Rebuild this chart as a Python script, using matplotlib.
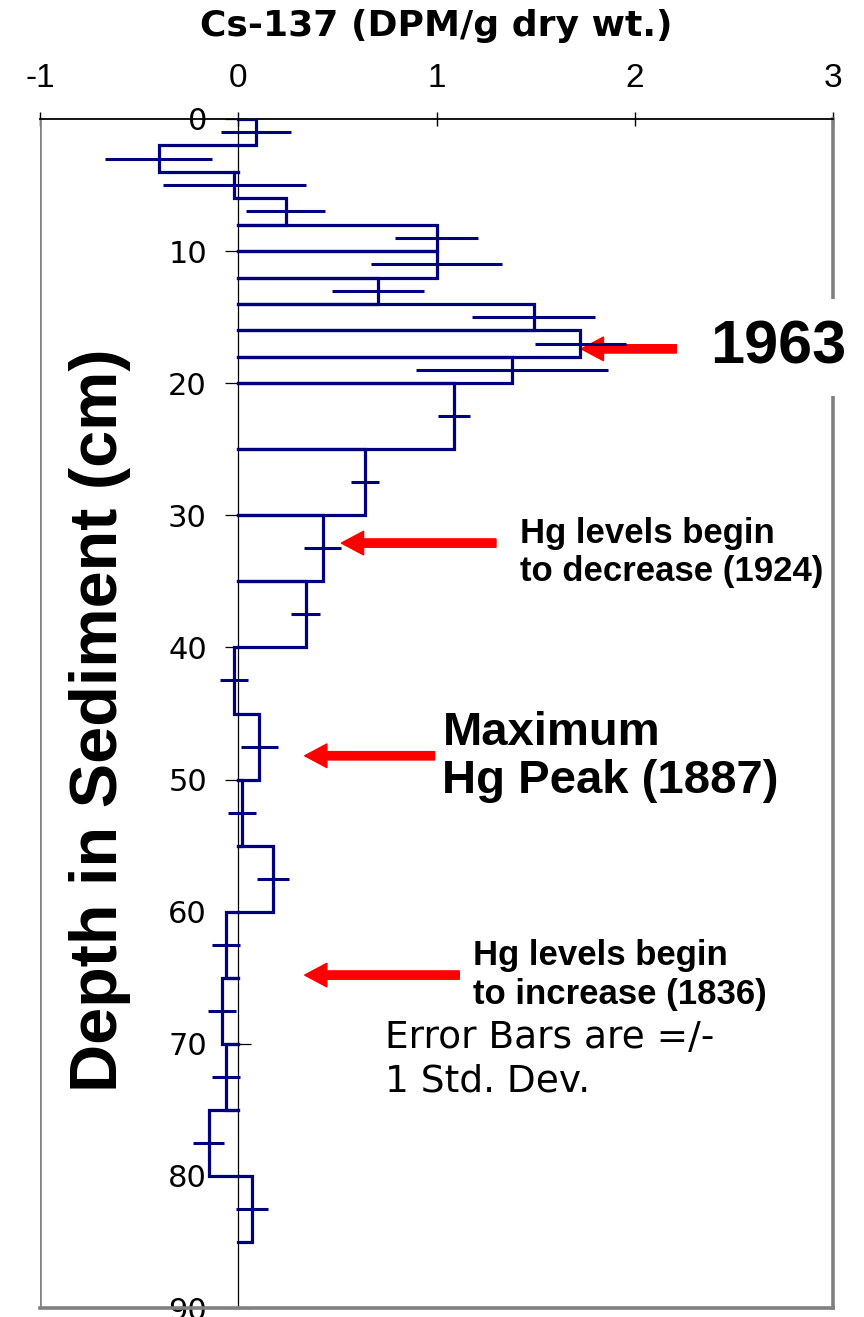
import numpy as np
import matplotlib.pyplot as plt

plt.rcParams['font.family'] = 'Liberation Sans'

# sediment slices (cm) and Cs-137 activity (DPM/g dry wt.) with 1 s.d.
depth_top = [0, 2, 4, 6, 8, 10, 12, 14, 16, 18, 20, 25, 30, 35, 40, 45, 50, 55, 60, 65, 70, 75, 80]
depth_bot = [2, 4, 6, 8, 10, 12, 14, 16, 18, 20, 25, 30, 35, 40, 45, 50, 55, 60, 65, 70, 75, 80, 85]
cs137 = [0.09, -0.40, -0.02, 0.24, 1.00, 1.00, 0.705, 1.49, 1.725, 1.38, 1.09, 0.64,
         0.425, 0.34, -0.02, 0.107, 0.02, 0.175, -0.06, -0.082, -0.06, -0.15, 0.07]
cs137_err = [0.175, 0.27, 0.36, 0.20, 0.21, 0.33, 0.23, 0.31, 0.23, 0.485, 0.08, 0.07,
             0.095, 0.073, 0.07, 0.093, 0.07, 0.08, 0.07, 0.07, 0.07, 0.08, 0.08]

x_ticks = [-1, 0, 1, 2, 3]
y_ticks = [0, 10, 20, 30, 40, 50, 60, 70, 80, 90]

navy = '#000080'
grey = '#808080'

fig = plt.figure(figsize=(8.64, 13.17), dpi=100)
ax = fig.add_axes([40/864, 9/1317, 793/864, 1189/1317])

# stepped profile, one open box per slice (no edge drawn on the zero line)
for top, bot, v in zip(depth_top, depth_bot, cs137):
    ax.plot([0, v, v, 0], [top, top, bot, bot], color=navy, lw=2.3,
            solid_joinstyle='miter', zorder=4)

mid = (np.array(depth_top) + np.array(depth_bot)) / 2
ax.errorbar(cs137, mid, xerr=cs137_err, fmt='none', ecolor=navy, elinewidth=2.2,
            capsize=0, zorder=4)

ax.set_xlim(-1, 3)
ax.set_ylim(90, 0)

# axes: x on top, y axis through x=0, grey frame round the rest
ax.spines['left'].set_position(('data', 0))
ax.spines['left'].set_linewidth(0.9)
ax.spines['top'].set_linewidth(1.3)
for s in ['right', 'bottom']:
    ax.spines[s].set_color(grey)
    ax.spines[s].set_linewidth(2.6)
ax.axvline(-1, color=grey, lw=2.6, zorder=2.5)

ax.xaxis.tick_top()
ax.set_xticks(x_ticks)
ax.set_xticklabels([str(t) for t in x_ticks])
ax.tick_params(axis='x', direction='inout', length=10, width=1, pad=13, labelsize=24)
ax.set_yticks(y_ticks)
ax.set_yticklabels([str(t) for t in y_ticks], family='DejaVu Sans')
ax.tick_params(axis='y', direction='inout', length=19, width=0.9, pad=13, labelsize=22)

ax.set_title('Cs-137 (DPM/g dry wt.)', fontsize=26, fontweight='bold',
             family='DejaVu Sans', pad=60)
fig.text(100/864, 1 - 720/1317, 'Depth in Sediment (cm)', rotation=90, ha='center',
         va='center', fontsize=48, fontweight='bold')

# annotations
arrow = dict(arrowstyle='simple,head_length=0.8,head_width=0.85,tail_width=0.3',
             color='red', mutation_scale=20, shrinkA=0, shrinkB=0)
ax.annotate('', xy=(1.73, 17.4), xytext=(2.21, 17.4), arrowprops=arrow)
ax.annotate('', xy=(0.52, 32.1), xytext=(1.30, 32.1), arrowprops=arrow)
ax.annotate('', xy=(0.335, 48.2), xytext=(0.99, 48.2), arrowprops=arrow)
ax.annotate('', xy=(0.335, 64.8), xytext=(1.115, 64.8), arrowprops=arrow)

ax.text(2.38, 17.3, '1963', fontsize=44, fontweight='bold', ha='left', va='center',
        bbox=dict(facecolor='white', edgecolor='none', pad=14), zorder=5)
ax.text(1.42, 32.8, 'Hg levels begin\nto decrease (1924)', fontsize=25,
        fontweight='bold', ha='left', va='center', linespacing=1.2)
ax.text(1.03, 48.3, 'Maximum\nHg Peak (1887)', fontsize=34, fontweight='bold',
        ha='left', va='center', linespacing=1.1)
ax.text(1.185, 64.8, 'Hg levels begin\nto increase (1836)', fontsize=25,
        fontweight='bold', ha='left', va='center', linespacing=1.2)
ax.text(0.74, 71.2, 'Error Bars are =/-\n1 Std. Dev.', fontsize=27,
        family='DejaVu Sans', ha='left', va='center', linespacing=1.25)

fig.savefig('out.png', dpi=100)
